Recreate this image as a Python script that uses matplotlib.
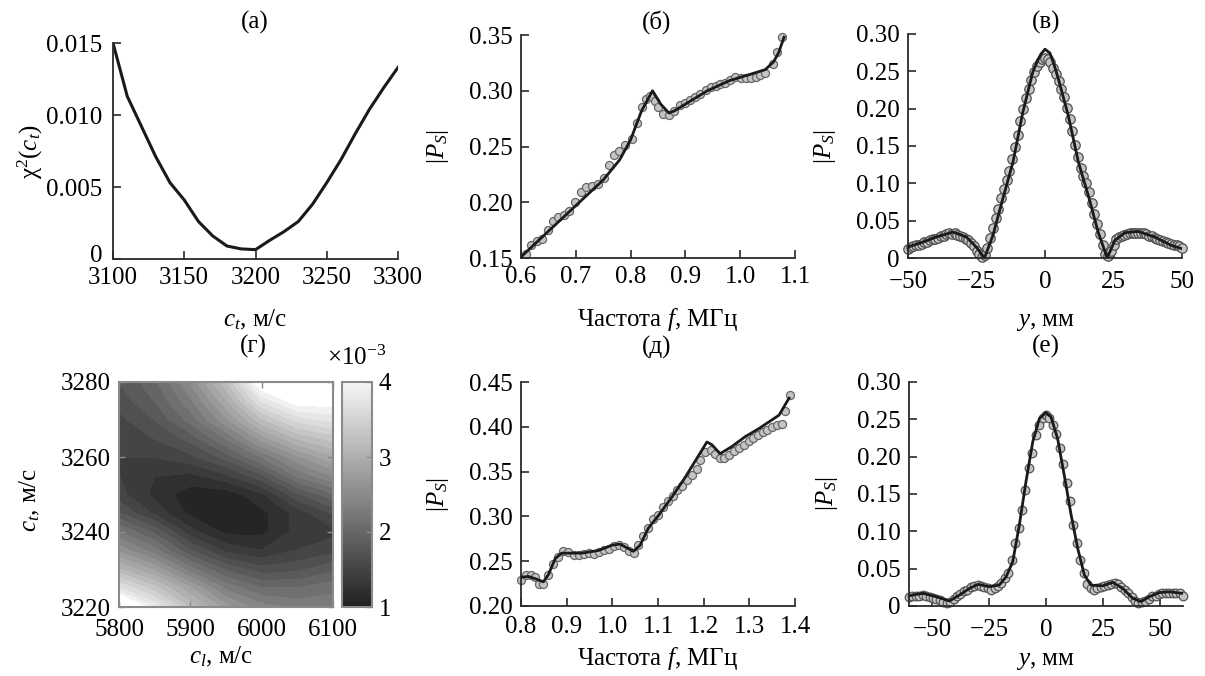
import numpy as np
import matplotlib
matplotlib.use('Agg')
import matplotlib.pyplot as plt
from matplotlib.colors import LinearSegmentedColormap, Normalize
from matplotlib.cm import ScalarMappable
from matplotlib.transforms import ScaledTranslation

plt.rcParams['font.family'] = ['Liberation Serif', 'DejaVu Serif']
plt.rcParams['mathtext.fontset'] = 'custom'
plt.rcParams['mathtext.rm'] = 'Liberation Serif'
plt.rcParams['mathtext.it'] = 'Liberation Serif:italic'

# (а) chi^2 vs c_t
ct_a = [3100, 3110, 3120, 3130, 3140, 3150, 3160, 3170, 3180, 3190, 3200,
        3210, 3220, 3230, 3240, 3250, 3260, 3270, 3280, 3290, 3300]
chi_a = [0.0150, 0.0113, 0.0092, 0.0071, 0.0053, 0.0041, 0.0026, 0.0016, 0.0009, 0.0007, 0.00065,
         0.0013, 0.0019, 0.0026, 0.0038, 0.0053, 0.0069, 0.0087, 0.0104, 0.0119, 0.0133]

# (б) |P_S| vs frequency
f_b_meas = [0.610, 0.618, 0.629, 0.638, 0.650, 0.659, 0.668, 0.679, 0.688, 0.699,
            0.710, 0.719, 0.729, 0.740, 0.751, 0.760, 0.769, 0.779, 0.790, 0.802,
            0.812, 0.820, 0.829, 0.836, 0.844, 0.850, 0.859, 0.870, 0.879, 0.890,
            0.900, 0.909, 0.918, 0.927, 0.937, 0.946, 0.955, 0.964, 0.973, 0.982,
            0.991, 1.001, 1.010, 1.019, 1.028, 1.037, 1.046, 1.059, 1.068, 1.077]
ps_b_meas = [0.154, 0.162, 0.165, 0.167, 0.175, 0.183, 0.187, 0.189, 0.192, 0.200,
             0.209, 0.214, 0.215, 0.216, 0.222, 0.233, 0.242, 0.246, 0.251, 0.257,
             0.271, 0.285, 0.293, 0.295, 0.291, 0.285, 0.279, 0.278, 0.282, 0.287,
             0.289, 0.292, 0.294, 0.297, 0.301, 0.303, 0.304, 0.306, 0.307, 0.310,
             0.312, 0.311, 0.311, 0.311, 0.312, 0.314, 0.316, 0.324, 0.335, 0.348]
f_b_fit = [0.60, 0.65, 0.70, 0.75, 0.78, 0.80, 0.82, 0.84, 0.855, 0.87, 0.88, 0.90,
           0.94, 0.98, 1.00, 1.02, 1.046, 1.061, 1.07, 1.08]
ps_b_fit = [0.151, 0.174, 0.197, 0.220, 0.238, 0.256, 0.282, 0.300, 0.288, 0.280, 0.282, 0.288,
            0.300, 0.309, 0.312, 0.315, 0.319, 0.326, 0.334, 0.348]

# (в) |P_S| vs y
y_c_meas = np.arange(-50, 51, 1)
ps_c_meas = [0.012, 0.015, 0.016, 0.017, 0.018, 0.019, 0.021, 0.022, 0.024, 0.025,
             0.026, 0.027, 0.029, 0.030, 0.032, 0.033, 0.032, 0.033, 0.031, 0.030,
             0.028, 0.026, 0.024, 0.020, 0.016, 0.010, 0.005, 0.002, 0.004, 0.014,
             0.027, 0.040, 0.053, 0.066, 0.080, 0.092, 0.104, 0.117, 0.132, 0.148,
             0.165, 0.183, 0.200, 0.214, 0.227, 0.239, 0.249, 0.257, 0.263, 0.267,
             0.268,
             0.266, 0.262, 0.255, 0.246, 0.237, 0.227, 0.215, 0.201, 0.186, 0.170,
             0.152, 0.135, 0.121, 0.110, 0.101, 0.089, 0.073, 0.059, 0.046, 0.032,
             0.018, 0.006, 0.003, 0.010, 0.018, 0.025, 0.028, 0.030, 0.031, 0.032,
             0.033, 0.033, 0.034, 0.034, 0.033, 0.033, 0.032, 0.030, 0.029, 0.027,
             0.026, 0.024, 0.023, 0.022, 0.020, 0.019, 0.018, 0.017, 0.016, 0.014]
y_c_fit = [-50, -44.5, -39.7, -33.6, -28.7, -25.1, -22.1, -19, -15.4, -11.7, -8.1, -4.5, -3,
           -1.5, 0, 1.8, 3.3, 4.9, 8.5, 12.2, 15.8, 19.4, 22.7, 25.5, 29.2, 34, 40, 46.1, 50]
ps_c_fit = [0.0147, 0.0214, 0.0281, 0.0347, 0.0281, 0.0147, 0.0, 0.0303, 0.0793, 0.1283, 0.195, 0.2486, 0.262,
            0.273, 0.2797, 0.2744, 0.259, 0.2396, 0.1906, 0.1283, 0.0837, 0.0347, 0.0, 0.0236, 0.0339, 0.0356,
            0.0281, 0.0169, 0.0125]

# (г) chi^2 map, x10^-3
cl_g = [5800, 5850, 5900, 5950, 6000, 6050, 6100]
ct_g = [3220, 3225, 3230, 3235, 3240, 3245, 3250, 3255, 3260, 3265, 3270, 3275, 3280]
chi_g = [[4.5, 3.8, 3.2, 2.7, 2.4, 2.3, 2.3],
         [3.7, 3.3, 2.8, 2.3, 2.05, 2.05, 2.15],
         [3.1, 2.75, 2.25, 1.85, 1.65, 1.7, 1.85],
         [2.6, 2.25, 1.75, 1.4, 1.3, 1.45, 1.55],
         [2.2, 1.85, 1.35, 1.1, 1.1, 1.35, 1.4],
         [1.75, 1.4, 1.1, 1.0, 1.1, 1.35, 1.6],
         [1.5, 1.25, 1.05, 1.05, 1.25, 1.7, 2.0],
         [1.45, 1.3, 1.25, 1.4, 1.7, 2.2, 2.5],
         [1.45, 1.45, 1.55, 1.8, 2.2, 2.6, 2.9],
         [1.5, 1.6, 1.8, 2.2, 2.7, 3.1, 3.3],
         [1.55, 1.75, 2.1, 2.6, 3.2, 3.6, 3.75],
         [1.65, 1.9, 2.3, 2.9, 3.7, 4.1, 4.1],
         [1.75, 2.0, 2.5, 3.2, 4.2, 4.5, 4.5]]

# (д) |P_S| vs frequency
f_d_meas = [0.800, 0.812, 0.822, 0.831, 0.840, 0.849, 0.860, 0.869, 0.880, 0.893,
            0.904, 0.915, 0.926, 0.937, 0.948, 0.959, 0.970, 0.981, 0.992, 1.003,
            1.014, 1.025, 1.036, 1.047, 1.057, 1.068, 1.079, 1.090, 1.100, 1.111,
            1.122, 1.132, 1.142, 1.153, 1.164, 1.175, 1.186, 1.193, 1.202, 1.215,
            1.224, 1.235, 1.244, 1.255, 1.266, 1.277, 1.288, 1.299, 1.308, 1.319,
            1.330, 1.339, 1.350, 1.361, 1.371, 1.379, 1.388]
ps_d_meas = [0.229, 0.235, 0.235, 0.232, 0.225, 0.225, 0.235, 0.247, 0.255, 0.261,
             0.260, 0.257, 0.257, 0.258, 0.259, 0.258, 0.260, 0.263, 0.264, 0.267,
             0.268, 0.266, 0.261, 0.259, 0.268, 0.278, 0.287, 0.297, 0.302, 0.311,
             0.317, 0.323, 0.329, 0.334, 0.341, 0.346, 0.353, 0.363, 0.372, 0.374,
             0.370, 0.365, 0.365, 0.369, 0.373, 0.376, 0.380, 0.384, 0.388, 0.391,
             0.394, 0.396, 0.400, 0.402, 0.403, 0.418, 0.435]
f_d_fit = [0.80, 0.816, 0.831, 0.849, 0.86, 0.875, 0.889, 0.933, 0.97, 1.0, 1.017, 1.028, 1.046,
           1.061, 1.079, 1.101, 1.131, 1.16, 1.189, 1.207, 1.218, 1.236, 1.262, 1.291, 1.321,
           1.365, 1.387]
ps_d_fit = [0.232, 0.233, 0.2305, 0.227, 0.235, 0.253, 0.259, 0.259, 0.262, 0.268, 0.269, 0.266, 0.261,
            0.268, 0.287, 0.301, 0.322, 0.344, 0.368, 0.383, 0.380, 0.370, 0.378, 0.389, 0.398,
            0.413, 0.432]

# (е) |P_S| vs y
y_e_meas = np.arange(-60, 60.1, 1.5)
ps_e_meas = [0.012, 0.013, 0.014, 0.013, 0.015, 0.013, 0.012, 0.011, 0.010, 0.008,
             0.006, 0.004, 0.005, 0.010, 0.013, 0.016, 0.020, 0.022, 0.025, 0.027,
             0.028, 0.027, 0.025, 0.024, 0.022, 0.024, 0.027, 0.031, 0.037, 0.044,
             0.062, 0.085, 0.105, 0.128, 0.155, 0.185, 0.205, 0.229, 0.242, 0.252,
             0.256,
             0.252, 0.243, 0.230, 0.212, 0.190, 0.165, 0.140, 0.108, 0.085, 0.062,
             0.044, 0.030, 0.024, 0.022, 0.024, 0.025, 0.027, 0.028, 0.030, 0.031,
             0.029, 0.026, 0.022, 0.017, 0.012, 0.007, 0.004, 0.005, 0.007, 0.010,
             0.013, 0.014, 0.016, 0.017, 0.018, 0.018, 0.017, 0.017, 0.018, 0.014]
y_e_fit = [-60, -54, -48.1, -42.3, -37.9, -33.5, -29.8, -24.9, -20.5, -17.5, -14.6, -11.7,
           -8.8, -5.8, -2.9, 0, 2.2, 5.1, 8.0, 11.0, 13.9, 16.8, 19.7, 24.9, 29.2, 33.6,
           38.0, 41.6, 45.3, 49.7, 54.1, 59.7]
ps_e_fit = [0.0138, 0.017, 0.0125, 0.0067, 0.0147, 0.0236, 0.029, 0.0259, 0.028, 0.039, 0.059, 0.108,
            0.166, 0.22, 0.251, 0.259, 0.253, 0.224, 0.175, 0.122, 0.077, 0.0415, 0.028, 0.027, 0.0317,
            0.0236, 0.0103, 0.0058, 0.0125, 0.018, 0.019, 0.017]

W, H = 1205, 676
FS = 18
INK = '#1a1a1a'
AX = '#2a2a2a'
FRAME = '#8a8a8a'

fig = plt.figure(figsize=(W / 100, H / 100), dpi=100)


def add_ax(l, t, r, b):
    return fig.add_axes([l / W, 1 - b / H, (r - l) / W, (b - t) / H])


def ftext(x, y, s, **kw):
    kw.setdefault('ha', 'center')
    kw.setdefault('va', 'center')
    fig.text(x / W, 1 - y / H, s, fontsize=FS, **kw)


def style(ax, xpad, ypad=6):
    for s in ('top', 'right'):
        ax.spines[s].set_visible(False)
    for s in ('left', 'bottom'):
        ax.spines[s].set_linewidth(1.3)
        ax.spines[s].set_color(AX)
    ax.tick_params(direction='in', length=6, width=1.2, color=AX, labelsize=FS)
    ax.tick_params(axis='x', pad=xpad)
    ax.tick_params(axis='y', pad=ypad)


def meas_fit(ax, xm, ym, xf, yf, ms=5.8, mec='#666666'):
    ax.plot(xm, ym, 'o', ms=ms, mfc='#c4c4c4', mec=mec, mew=0.9, clip_on=False, zorder=2)
    ax.plot(xf, yf, '-', color=INK, lw=2.0, zorder=3)


# (а)
ax = add_ax(113, 43, 398, 259)
style(ax, 6, 7.5)
ax.plot(ct_a, chi_a, '-', color=INK, lw=2.2)
ax.set_xlim(3100, 3300)
ax.set_ylim(0, 0.015)
ax.set_xticks([3100, 3150, 3200, 3250, 3300])
ax.set_yticks([0, 0.005, 0.010, 0.015], ['0', '0.005', '0.010', '0.015'])
# lift the "0" a little so it clears "3100"
zero_lbl = ax.get_yticklabels()[0]
zero_lbl.set_transform(zero_lbl.get_transform() + ScaledTranslation(0, 4 / 72, fig.dpi_scale_trans))

# (б)
ax = add_ax(521, 35, 795, 258)
style(ax, 5.4)
meas_fit(ax, f_b_meas, ps_b_meas, f_b_fit, ps_b_fit)
ax.set_xlim(0.6, 1.1)
ax.set_ylim(0.15, 0.35)
ax.set_xticks([0.6, 0.7, 0.8, 0.9, 1.0, 1.1], ['0.6', '0.7', '0.8', '0.9', '1.0', '1.1'])
ax.set_yticks([0.15, 0.20, 0.25, 0.30, 0.35], ['0.15', '0.20', '0.25', '0.30', '0.35'])

# (в)
ax = add_ax(908, 34, 1182, 258)
style(ax, 9)
meas_fit(ax, y_c_meas, ps_c_meas, y_c_fit, ps_c_fit, ms=6.8, mec='#505050')
ax.set_xlim(-50, 50)
ax.set_ylim(0, 0.30)
ax.set_xticks([-50, -25, 0, 25, 50])
ax.set_yticks([0, 0.05, 0.10, 0.15, 0.20, 0.25, 0.30],
              ['0', '0.05', '0.10', '0.15', '0.20', '0.25', '0.30'])

# (г)
cmap = LinearSegmentedColormap.from_list('chi', ['#211f20', '#f6f6f6'])
cmap.set_over('#ffffff')
cmap.set_under('#211f20')
ax = add_ax(119, 382, 333, 607)
cf = ax.contourf(cl_g, ct_g, chi_g, levels=np.linspace(1, 4, 21), cmap=cmap, extend='both')
cf.set_edgecolor('face')
ax.set_xlim(5800, 6100)
ax.set_ylim(3220, 3280)
ax.set_xticks([5800, 5900, 6000, 6100])
ax.set_yticks([3220, 3240, 3260, 3280])
for s in ax.spines.values():
    s.set_color(FRAME)
    s.set_linewidth(1.5)
ax.tick_params(direction='in', length=4, width=1, color=FRAME, labelsize=FS,
               top=True, right=True)
ax.tick_params(axis='x', pad=9)
ax.tick_params(axis='y', pad=6)

cax = add_ax(342, 382, 372, 607)
cb = fig.colorbar(ScalarMappable(norm=Normalize(1, 4), cmap=cmap), cax=cax, ticks=[1, 2, 3, 4])
cb.outline.set_edgecolor(FRAME)
cb.outline.set_linewidth(1.5)
cax.tick_params(direction='in', length=4, width=1, color=FRAME, labelsize=FS, pad=5)
cax.set_yticklabels(['1', '2', '3', '4'])
ftext(357, 358, '×10$^{-3}$')

# (д)
ax = add_ax(521, 382, 795, 606)
style(ax, 7)
meas_fit(ax, f_d_meas, ps_d_meas, f_d_fit, ps_d_fit)
ax.set_xlim(0.8, 1.4)
ax.set_ylim(0.20, 0.45)
ax.set_xticks([0.8, 0.9, 1.0, 1.1, 1.2, 1.3, 1.4], ['0.8', '0.9', '1.0', '1.1', '1.2', '1.3', '1.4'])
ax.set_yticks([0.20, 0.25, 0.30, 0.35, 0.40, 0.45], ['0.20', '0.25', '0.30', '0.35', '0.40', '0.45'])

# (е)
ax = add_ax(909, 382, 1183, 606)
style(ax, 9.5)
meas_fit(ax, y_e_meas, ps_e_meas, y_e_fit, ps_e_fit, ms=6.2, mec='#555555')
ax.set_xlim(-60, 60)
ax.set_ylim(0, 0.30)
ax.set_xticks([-50, -25, 0, 25, 50])
ax.set_yticks([0, 0.05, 0.10, 0.15, 0.20, 0.25, 0.30],
              ['0', '0.05', '0.10', '0.15', '0.20', '0.25', '0.30'])

# panel letters
ftext(255, 22, '(а)')
ftext(657, 22, '(б)')
ftext(1046, 22, '(в)')
ftext(253, 346, '(г)')
ftext(657, 347, '(д)')
ftext(1046, 346, '(е)')

# axis labels
ftext(255, 326, '$c_t$, м/с', va='baseline')
ftext(658, 326, 'Частота $f$, МГц', va='baseline')
ftext(1045, 326, '$y$, мм', va='baseline')
ftext(221, 663, '$c_l$, м/с', va='baseline')
ftext(658, 665, 'Частота $f$, МГц', va='baseline')
ftext(1045, 665, '$y$, мм', va='baseline')

ftext(30, 152, 'χ$^2$($c_t$)', rotation=90)
ftext(438, 147, '$|P_S|$', rotation=90)
ftext(825, 147, '$|P_S|$', rotation=90)
ftext(30, 500, '$c_t$, м/с', rotation=90)
ftext(438, 495, '$|P_S|$', rotation=90)
ftext(827, 494, '$|P_S|$', rotation=90)

fig.savefig('out.png', dpi=100)
